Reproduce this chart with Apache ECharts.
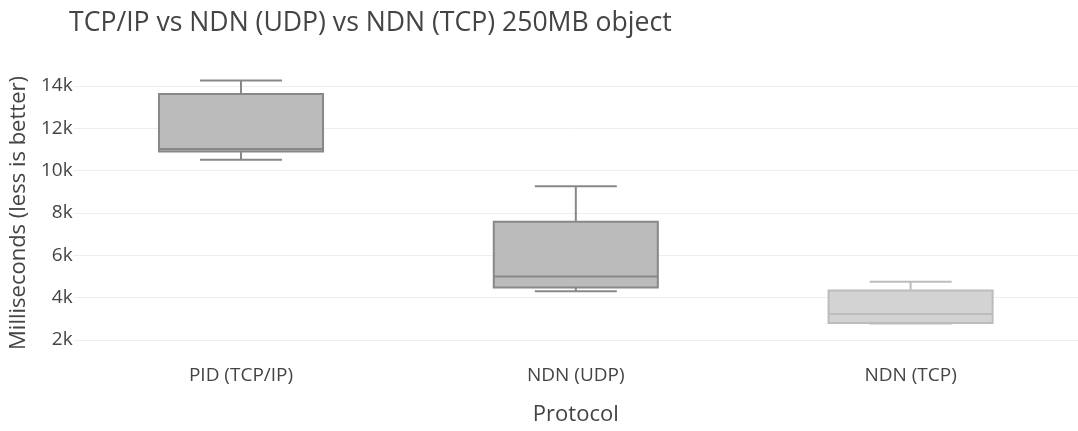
<!DOCTYPE html>
<html>
<head>
<meta charset="utf-8">
<script src="https://cdn.jsdelivr.net/npm/echarts@6/dist/echarts.min.js"></script>
<style>
  html, body { margin: 0; padding: 0; background: #fff; }
  #chart { width: 1078px; height: 431px; }
</style>
</head>
<body>
<div id="chart"></div>
<script>
// categories and box statistics (ms)
const protocols = ['PID (TCP/IP)', 'NDN (UDP)', 'NDN (TCP)'];
const lowerWhisker = [10510, 4300, 2780];
const q1 = [10900, 4480, 2800];
const median = [11020, 5000, 3230];
const q3 = [13620, 7590, 4340];
const upperWhisker = [14260, 9260, 4750];

const boxColors = [
  { fill: '#bbbbbb', line: '#888888' },
  { fill: '#bbbbbb', line: '#888888' },
  { fill: '#d3d3d3', line: '#bcbcbc' },
];

const boxData = protocols.map((p, i) => [i, lowerWhisker[i], q1[i], median[i], q3[i], upperWhisker[i]]);

const chart = echarts.init(document.getElementById('chart'));

const font = '"Open Sans", sans-serif';

const renderBox = (params, api) => {
  const idx = api.value(0);
  const pLo = api.coord([idx, api.value(1)]);
  const pQ1 = api.coord([idx, api.value(2)]);
  const pMed = api.coord([idx, api.value(3)]);
  const pQ3 = api.coord([idx, api.value(4)]);
  const pHi = api.coord([idx, api.value(5)]);
  const band = api.size([1, 0])[0];
  const bw = band * 0.49;
  const cx = pMed[0];
  const c = boxColors[idx];
  const lineStyle = { stroke: c.line, lineWidth: 2, fill: null };
  return {
    type: 'group',
    children: [
      {
        type: 'rect',
        shape: { x: cx - bw / 2, y: pQ3[1], width: bw, height: pQ1[1] - pQ3[1] },
        style: { fill: c.fill, stroke: c.line, lineWidth: 2 },
      },
      { type: 'line', shape: { x1: cx - bw / 2, y1: pMed[1], x2: cx + bw / 2, y2: pMed[1] }, style: lineStyle },
      { type: 'line', shape: { x1: cx, y1: pQ3[1], x2: cx, y2: pHi[1] }, style: lineStyle },
      { type: 'line', shape: { x1: cx, y1: pQ1[1], x2: cx, y2: pLo[1] }, style: lineStyle },
      { type: 'line', shape: { x1: cx - bw / 4, y1: pHi[1], x2: cx + bw / 4, y2: pHi[1] }, style: lineStyle },
      { type: 'line', shape: { x1: cx - bw / 4, y1: pLo[1], x2: cx + bw / 4, y2: pLo[1] }, style: lineStyle },
    ],
  };
};

const option = {
  backgroundColor: '#ffffff',
  animation: false,
  textStyle: { fontFamily: font, color: '#444' },
  title: {
    text: 'TCP/IP vs NDN (UDP) vs NDN (TCP) 250MB object',
    left: 64,
    top: 5,
    textStyle: { fontFamily: font, fontSize: 26.6, fontWeight: 'normal', color: '#444' },
  },
  grid: {
    left: 72,
    top: 86,
    width: 1013,
    bottom: 88.7,
  },
  xAxis: {
    type: 'category',
    data: protocols,
    name: 'Protocol',
    nameLocation: 'middle',
    nameGap: 64,
    nameTextStyle: { fontFamily: font, fontSize: 22, color: '#444' },
    axisLine: { show: false },
    axisTick: { show: false },
    axisLabel: { fontFamily: font, fontSize: 19, color: '#444', margin: 26 },
    splitLine: { show: false },
  },
  yAxis: {
    type: 'value',
    min: 2000,
    max: 14000,
    interval: 2000,
    name: 'Milliseconds (less is better)',
    nameLocation: 'middle',
    nameGap: 40,
    nameTextStyle: { fontFamily: font, fontSize: 22, color: '#444' },
    axisLine: { show: false },
    axisTick: { show: false },
    axisLabel: {
      fontFamily: font,
      fontSize: 19,
      color: '#444',
      margin: 1,
      formatter: (v) => (v / 1000) + 'k',
    },
    splitLine: { show: true, lineStyle: { color: '#eeeeee', width: 1 } },
  },
  series: [
    {
      type: 'custom',
      renderItem: renderBox,
      data: boxData,
      encode: { x: 0, y: [1, 2, 3, 4, 5] },
      clip: false,
    },
  ],
};

chart.setOption(option);
</script>
</body>
</html>
